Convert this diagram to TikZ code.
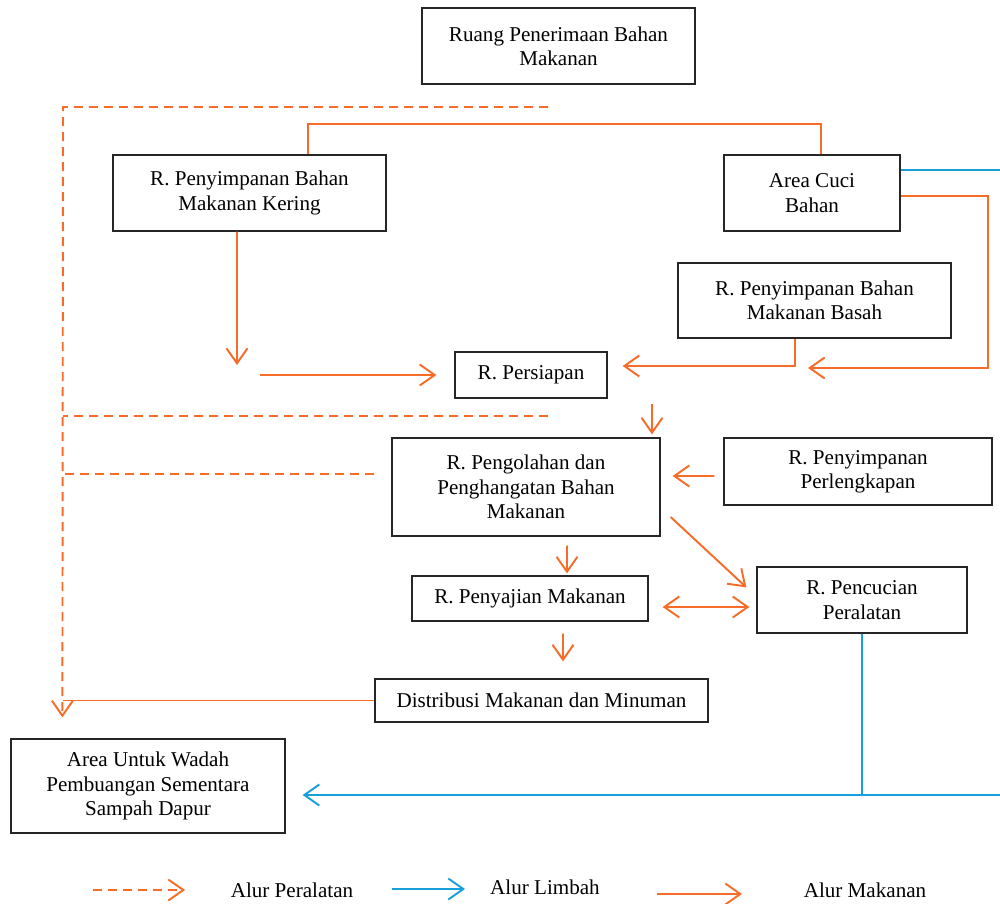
\documentclass[tikz,border=0pt]{standalone}
\usepackage{fontspec}
\setmainfont{Liberation Serif}
\usetikzlibrary{arrows.meta}
\definecolor{makan}{RGB}{246,108,40}
\definecolor{limbah}{RGB}{24,160,220}
\tikzstyle{room}=[draw=black!85,line width=0.7pt,align=center,inner sep=0pt,font=\fontsize{12}{13.8}\selectfont]
\tikzstyle{food}=[draw=makan,line width=1.1pt]
\tikzstyle{tool}=[food,dash pattern=on 1.8mm off 1.2mm]
\tikzstyle{waste}=[draw=limbah,line width=1.1pt]
\tikzstyle{legend}=[font=\fontsize{12}{13.8}\selectfont,inner sep=0pt]

\begin{document}
\begin{tikzpicture}[x=0.2mm,y=-0.2mm,>={Straight Barb[length=3mm,width=4.2mm]}]
    \useasboundingbox (0,0) rectangle (1000,903);
    % First we draw the rooms
    \foreach \name/\pos/\w/\h/\txt in {
        {terima/(558.5,46)/54.6/15.2/Ruang Penerimaan Bahan\\Makanan},
        {kering/(249.5,193)/54.6/15.2/R. Penyimpanan Bahan\\Makanan Kering},
        {cuci/(812,193)/35.2/15.2/Area Cuci\\Bahan},
        {basah/(814.5,300.5)/54.6/15/R. Penyimpanan Bahan\\Makanan Basah},
        {siap/(531,375)/30.4/9.2/R. Persiapan},
        {olah/(526,487)/53.6/19.6/R. Pengolahan dan\\Penghangatan Bahan\\Makanan},
        {lengkap/(858,471.5)/53.6/13.4/R. Penyimpanan\\Perlengkapan},
        {saji/(530,598.5)/47.2/9/R. Penyajian Makanan},
        {alat/(862,600)/42/13.2/R. Pencucian\\Peralatan},
        {distribusi/(541.5,700.5)/66.6/8.6/Distribusi Makanan dan Minuman},
        {sampah/(148,786)/54.8/18.8/Area Untuk Wadah\\Pembuangan Sementara\\Sampah Dapur}}
        \node[room,minimum width=\w mm,minimum height=\h mm] (\name) at \pos {\txt};

    % Alur makanan
    \draw[food] ([xshift=11.7mm]kering.north) -- ++(0,-30) -| ([xshift=1.8mm]cuci.north);
    \coordinate (k1) at (237,365);
    \draw[food,->] ([xshift=-2.5mm]kering.south) -- (k1);
    \coordinate (k2) at (260,375);
    \draw[food,->] (k2) -- ([xshift=-3.6mm]siap.west);
    \draw[food,->] ([xshift=-3.9mm]basah.south) |- ([xshift=3mm,yshift=1.8mm]siap.east);
    \coordinate (c2) at (808,368);
    \draw[food,->] ([yshift=-0.6mm]cuci.east) -- ++(87,0) |- (c2);
    \draw[food,->] ([xshift=25.2mm,yshift=6.6mm]olah.north) -- ([xshift=25.2mm,yshift=0.6mm]olah.north);
    \draw[food,->] ([xshift=-1.8mm,yshift=-0.9mm]lengkap.west) -- ([xshift=2.4mm,yshift=2.2mm]olah.east);
    \draw[food,->] ([xshift=2mm,yshift=-6mm]olah.east) -- ([xshift=-2mm,yshift=-4.2mm]alat.north west);
    \draw[food,->] ([xshift=8.2mm,yshift=-1.8mm]olah.south) -- ([xshift=7.4mm,yshift=0.4mm]saji.north);
    \draw[food,<->] ([xshift=2.8mm,yshift=-1.7mm]saji.east) -- ([xshift=-1.4mm,yshift=-1.4mm]alat.west);
    \draw[food,->] ([xshift=6.6mm,yshift=-2.4mm]saji.south) -- ([xshift=4.3mm,yshift=3.4mm]distribusi.north);

    % Alur peralatan
    \coordinate (t0) at (63,107);
    \coordinate (t1) at (548,107);
    \coordinate (t2) at (548,416);
    \draw[tool,->] (t1) -- (t0) -- ([xshift=10.4mm,yshift=4.2mm]sampah.north west);
    \draw[tool] (t2) -- (t2 -| t0);
    \draw[tool] ([xshift=-3.4mm,yshift=2.6mm]olah.west) -- ++(-312,0);
    \draw[food] (distribusi.west) -- (distribusi.west -| t0);

    % Alur limbah
    \draw[waste] ([yshift=4.6mm]cuci.east) -- ++(100,0);
    \coordinate (w1) at (1000,795);
    \draw[waste] (alat.south) -- (alat.south |- w1);
    \draw[waste,->] (w1) -- ([xshift=3.4mm,yshift=-1.8mm]sampah.east);

    % Legend
    \foreach \sty/\a/\b/\y/\name/\x/\ty/\txt in {tool/93/185/890/lgalat/292/890/Alur Peralatan, waste/392/465/889/lglimbah/545/887/Alur Limbah, food/657/742/894/lgmakan/865/890/Alur Makanan}
    {
        \coordinate (\name a) at (\a,\y);
        \coordinate (\name b) at (\b,\y);
        \draw[\sty,->] (\name a) -- (\name b);
        \node[legend] (\name) at (\x,\ty) {\txt};
    }
\end{tikzpicture}
\end{document}
